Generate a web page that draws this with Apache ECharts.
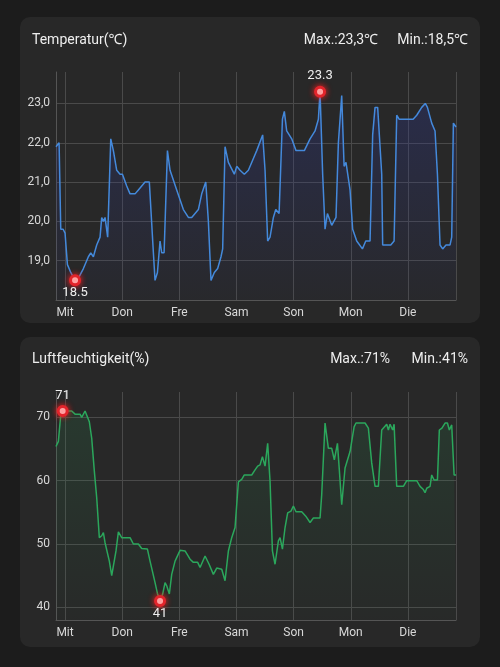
<!DOCTYPE html>
<html>
<head>
<meta charset="utf-8">
<script src="https://cdn.jsdelivr.net/npm/echarts@6/dist/echarts.min.js"></script>
<style>
html, body { margin: 0; padding: 0; background: #1c1c1c; }
#chart { width: 500px; height: 667px; }
</style>
</head>
<body>
<div id="chart"></div>
<script>
// Wochentage (getDay: 0 = Sonntag)
const weekDays = ['Son', 'Mon', 'Die', 'Mit', 'Don', 'Fre', 'Sam']

// Stunden ab Mittwoch 00:00
const tempHours = [
  -3.8, -2.5, -1.8, -0.8, 0, 1.0, 2.4, 4.2, 6.0, 7.7,
  9.8, 10.8, 11.9, 13.3, 14.7, 15.4, 16.1, 16.8, 17.9, 19.2,
  20.3, 21.7, 23.1, 24.1, 25.9, 27.3, 29.4, 30.8, 32.2, 33.6,
  35.4, 37.1, 37.8, 38.8, 39.9, 40.6, 41.6, 43.0, 44.1, 46.9,
  49.7, 51.8, 53.2, 54.6, 56.0, 57.4, 59.1, 60.2, 61.3, 62.7,
  64.1, 65.5, 66.2, 67.2, 68.6, 71.1, 72.1, 73.5, 75.3, 77.0,
  79.1, 80.5, 83.0, 84.0, 85.1, 86.1, 87.5, 88.5, 89.9, 91.3,
  92.1, 93.1, 95.2, 97.0, 100.5, 102.9, 105.0, 106.4, 107.1, 108.2,
  109.2, 110.2, 112.0, 113.8, 114.8, 116.2, 117.2, 118.0, 119.7, 120.8,
  122.5, 124.9, 126.3, 128.1, 129.2, 130.2, 131.3, 133.0, 133.4, 135.1,
  136.8, 138.2, 139.3, 140.3, 144.9, 146.2, 147.7, 149.8, 151.3, 152.2,
  154.0, 155.4, 156.4, 157.5, 158.6, 160.0, 161.7, 162.4, 163.1, 164.2
]
const tempValues = [
  21.9, 22.0, 19.8, 19.8, 19.7, 18.9, 18.7, 18.5, 18.6, 18.8,
  19.1, 19.2, 19.1, 19.4, 19.6, 20.1, 20.0, 20.1, 19.6, 22.1,
  21.8, 21.3, 21.2, 21.2, 20.9, 20.7, 20.7, 20.8, 20.9, 21.0,
  21.0, 19.2, 18.5, 18.7, 19.5, 19.2, 19.2, 21.8, 21.3, 20.8,
  20.3, 20.1, 20.1, 20.2, 20.3, 20.7, 21.0, 20.0, 18.5, 18.7,
  18.8, 19.1, 19.3, 21.9, 21.5, 21.2, 21.4, 21.3, 21.2, 21.3,
  21.6, 21.8, 22.2, 21.3, 19.5, 19.6, 20.1, 20.3, 20.2, 22.6,
  22.8, 22.3, 22.1, 21.8, 21.8, 22.1, 22.3, 22.6, 23.3, 21.2,
  19.8, 20.2, 19.9, 20.1, 22.0, 23.2, 21.4, 21.5, 20.8, 19.8,
  19.5, 19.3, 19.5, 19.5, 22.2, 22.9, 22.9, 21.2, 19.4, 19.4,
  19.4, 19.5, 22.7, 22.6, 22.6, 22.6, 22.7, 22.9, 23.0, 22.9,
  22.5, 22.3, 21.2, 19.4, 19.3, 19.4, 19.4, 19.6, 22.5, 22.4
]

const humHours = [
  -3.8, -2.8, -1.8, -1.0, 0, 2.8, 4.2, 6.3, 7.0, 8.4,
  10.2, 11.2, 12.3, 13.3, 14.4, 15.4, 16.1, 16.8, 18.6, 19.6,
  20.3, 21.4, 22.4, 23.8, 27.3, 28.7, 30.8, 32.2, 34.6, 35.7,
  37.8, 38.8, 39.9, 41.0, 42.0, 42.7, 43.8, 44.8, 46.2, 48.3,
  50.4, 52.5, 53.9, 55.7, 56.7, 58.8, 60.5, 62.3, 63.7, 65.8,
  67.2, 68.6, 70.0, 71.4, 72.8, 74.2, 75.3, 78.4, 79.8, 80.9,
  81.9, 82.9, 84.0, 85.1, 86.1, 87.1, 88.2, 89.6, 90.3, 91.3,
  92.4, 93.5, 94.9, 95.9, 97.0, 99.4, 101.1, 102.9, 104.3, 107.1,
  107.8, 109.2, 110.6, 112.0, 113.1, 114.4, 115.2, 116.2, 117.6, 118.3,
  119.7, 121.4, 122.2, 126.0, 127.4, 128.8, 130.2, 131.6, 133.0, 133.7,
  135.1, 135.8, 136.5, 137.6, 138.2, 139.3, 142.1, 143.5, 147.7, 149.1,
  150.5, 151.2, 151.9, 153.3, 154.0, 155.0, 156.4, 157.2, 158.3, 159.6,
  160.6, 161.4, 162.4, 163.4, 164.2
]
const humValues = [
  65.4, 66.2, 70.4, 71, 71, 71, 70.5, 70.5, 70, 71,
  69.3, 66.7, 61.5, 57.3, 51, 51.3, 51.8, 50.2, 47.3, 45,
  45, 48.9, 51.9, 51, 51, 50, 50, 49.3, 49.2, 47.3,
  43.9, 42.2, 41, 42.1, 43.9, 43.4, 42.1, 45.2, 47.3, 49,
  48.9, 47.6, 47.1, 47.1, 46.3, 48.1, 46.8, 45.2, 46.2, 46,
  44.2, 48.9, 51, 52.6, 59.8, 60.2, 60.9, 60.9, 61.7, 62.3,
  62.5, 63.8, 62.3, 65.9, 59.9, 48.9, 46.8, 50.5, 51, 49.2,
  52.6, 54.9, 55.2, 56, 55.1, 55.1, 54.4, 53.4, 54.1, 54.1,
  57.8, 69.1, 65.1, 65.1, 63.3, 65.9, 61.7, 56.2, 62, 62,
  64.6, 68.5, 69.1, 69.1, 68.3, 62.8, 59.1, 59.1, 68, 68,
  68.9, 68, 68.9, 68, 68.9, 59.1, 59.1, 60, 60, 59.1,
  58.6, 58.1, 58.8, 59.1, 60.9, 60.1, 60.1, 68, 68.3, 69.1,
  69.1, 68, 68.8, 60.9, 60.9
]

const rangeStartHour = -3.8
const rangeEndHour = 164.2

const HOUR = 3600 * 1000
const startDay = new Date(2024, 0, 3).getTime() // Mittwoch 00:00
const toPairs = (hours, values) => hours.map((h, i) => [startDay + h * HOUR, values[i]])

const comma = (v, d) => v.toFixed(d).replace('.', ',')
const tMax = Math.max(...tempValues), tMin = Math.min(...tempValues)
const hMax = Math.max(...humValues), hMin = Math.min(...humValues)

const gridColor = '#4a4a4a'
const labelColor = '#d8d8d8'
const textColor = '#eeeeee'
const font = 'Roboto, "Noto Sans", sans-serif'

function xAxis(gridIndex) {
    return {
        type: 'time',
        gridIndex: gridIndex,
        min: startDay + rangeStartHour * HOUR,
        max: startDay + rangeEndHour * HOUR,
        minInterval: 24 * HOUR,
        maxInterval: 24 * HOUR,
        axisLine: {show: true, lineStyle: {color: '#555'}},
        axisTick: {show: false},
        splitLine: {show: true, lineStyle: {color: gridColor, width: 1}},
        axisLabel: {
            color: labelColor, fontSize: 12, fontFamily: font, margin: 7,
            showMinLabel: false, showMaxLabel: false,
            formatter: v => weekDays[new Date(v).getDay()]
        }
    }
}

function yAxis(gridIndex, min, max, fmt) {
    return {
        type: 'value',
        gridIndex: gridIndex,
        min: min,
        max: max,
        axisLine: {show: true, lineStyle: {color: '#555'}},
        axisTick: {show: false},
        splitLine: {show: true, showMinLine: false, showMaxLine: false, lineStyle: {color: gridColor, width: 1}},
        axisLabel: {
            color: labelColor, fontSize: 12, fontFamily: font, margin: 6,
            showMinLabel: false, showMaxLabel: false,
            formatter: fmt
        }
    }
}

const markSymbol = {
    symbol: 'circle',
    symbolSize: 9,
    itemStyle: {color: '#ffffff', borderColor: '#e3242b', borderWidth: 3, shadowBlur: 6, shadowColor: 'rgba(255,30,30,0.9)'}
}

function line(index, data, color, areaTop, areaBottom, fmt) {
    return {
        type: 'line',
        xAxisIndex: index,
        yAxisIndex: index,
        data: data,
        showSymbol: false,
        smooth: false,
        lineStyle: {color: color, width: 1.5},
        areaStyle: {
            color: new echarts.graphic.LinearGradient(0, 0, 0, 1, [
                {offset: 0, color: areaTop},
                {offset: 1, color: areaBottom}
            ])
        },
        markPoint: {
            animation: false,
            data: [
                Object.assign({type: 'max', label: {show: true, position: 'top', distance: 3, color: textColor, fontSize: 13, fontFamily: font, formatter: p => fmt(p.value)}}, markSymbol),
                Object.assign({type: 'min', label: {show: true, position: 'bottom', distance: 0, color: textColor, fontSize: 13, fontFamily: font, formatter: p => fmt(p.value)}}, markSymbol)
            ]
        }
    }
}

function text(x, y, str, align) {
    return {
        type: 'text', x: x, y: y, z: 10,
        style: {text: str, fill: textColor, font: '14px ' + font, textAlign: align, textVerticalAlign: 'middle'}
    }
}

const myChart = echarts.init(document.getElementById('chart'))
myChart.setOption({
    backgroundColor: '#1c1c1c',
    animation: false,
    graphic: [
        {type: 'rect', z: -10, shape: {x: 20, y: 17, width: 460, height: 306, r: 10}, style: {fill: '#282828'}},
        {type: 'rect', z: -10, shape: {x: 20, y: 337, width: 460, height: 310, r: 10}, style: {fill: '#282828'}},
        text(32, 40, 'Temperatur(℃)', 'left'),
        text(378, 40, 'Max.:' + comma(tMax, 1) + '℃', 'right'),
        text(468, 40, 'Min.:' + comma(tMin, 1) + '℃', 'right'),
        text(32, 359, 'Luftfeuchtigkeit(%)', 'left'),
        text(390, 359, 'Max.:' + Math.round(hMax) + '%', 'right'),
        text(468, 359, 'Min.:' + Math.round(hMin) + '%', 'right')
    ],
    grid: [
        {left: 56, right: 44, top: 72, height: 228},
        {left: 56, right: 44, top: 392, height: 228}
    ],
    xAxis: [xAxis(0), xAxis(1)],
    yAxis: [
        yAxis(0, tMin - 0.5, tMax + 0.5, v => comma(v, 1)),
        yAxis(1, hMin - 3, hMax + 3, v => String(v))
    ],
    series: [
        line(0, toPairs(tempHours, tempValues), '#4489db', 'rgba(45,55,150,0.45)', 'rgba(45,55,150,0.05)', v => v.toFixed(1)),
        line(1, toPairs(humHours, humValues), '#2ba75c', 'rgba(40,150,85,0.22)', 'rgba(40,150,85,0.02)', v => String(Math.round(v)))
    ]
})
</script>
</body>
</html>
